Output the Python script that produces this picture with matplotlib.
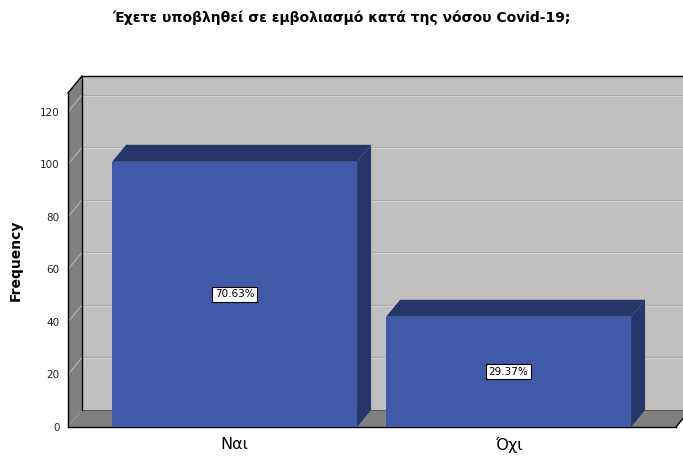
import matplotlib
matplotlib.use("Agg")
import matplotlib.pyplot as plt
from matplotlib.patches import Polygon
import numpy as np

categories = ["Ναι", "Όχι"]
counts = [101, 42]
percents = ["70.63%", "29.37%"]
yticks = [0, 20, 40, 60, 80, 100, 120]
title = "Έχετε υποβληθεί σε εμβολιασμό κατά της νόσου Covid-19;"

front = "#4059a9"
dark = "#26366b"
wall = "#c0c0c0"
side = "#808080"

W, H = 683, 457
fig = plt.figure(figsize=(W / 100, H / 100), dpi=100)
ax = fig.add_axes([68 / W, (H - 427) / H, 608 / W, 334 / H])
xl, xr = -0.608, 1.611
ytop = 127.2
ax.set_xlim(xl, xr)
ax.set_ylim(0, ytop)
for s in ax.spines.values():
    s.set_visible(False)

# depth offset (14 px right, 17 px up) in data units
p0 = ax.transData.transform((0, 0))
ddx, ddy = ax.transData.inverted().transform(p0 + np.array([14, 17]))

def poly(pts, fc, z, ec="none", lw=0):
    ax.add_patch(Polygon(pts, closed=True, fc=fc, ec=ec, lw=lw, zorder=z, clip_on=False))

# back wall, side wall, floor
poly([(xl + ddx, ddy), (xr + ddx + 0.2, ddy), (xr + ddx + 0.2, ytop + ddy), (xl + ddx, ytop + ddy)], wall, 0)
poly([(xl, 0), (xl + ddx, ddy), (xl + ddx, ytop + ddy), (xl, ytop)], side, 1)
poly([(xl, 0), (xr, 0), (xr + ddx, ddy), (xl + ddx, ddy)], side, 1)

one_px = ytop / 334
for v in yticks[1:]:
    ax.plot([xl + ddx, xr + ddx + 0.2], [v + ddy, v + ddy], color="#ababab", lw=0.8, zorder=0.5, clip_on=False)
    ax.plot([xl + ddx, xr + ddx + 0.2], [v + ddy - one_px, v + ddy - one_px], color="#d2d2d2", lw=0.7, zorder=0.5, clip_on=False)
    ax.plot([xl, xl + ddx], [v, v + ddy], color="#b4b4b4", lw=0.8, zorder=1.5, clip_on=False)

k = dict(color="black", lw=1.0, zorder=2, clip_on=False)
ax.plot([xl, xl], [0, ytop], **k)
ax.plot([xl + ddx, xl + ddx], [ddy, ytop + ddy], **k)
ax.plot([xl, xl + ddx], [ytop, ytop + ddy], **k)
ax.plot([xl + ddx, xr + ddx + 0.2], [ytop + ddy, ytop + ddy], **k)
ax.plot([xl, xr], [0, 0], **k)
ax.plot([xr, xr + ddx], [0, ddy], **k)
ax.plot([xl + ddx, xr + ddx], [ddy, ddy], color="#555555", lw=0.6, zorder=1.2, clip_on=False)

# bars
width = 0.894
x = np.arange(len(categories))
bars = ax.bar(x, counts, width=width, color=front, zorder=5)
for b, v, p in zip(bars, counts, percents):
    x0, x1 = b.get_x(), b.get_x() + b.get_width()
    poly([(x0, v), (x0 + ddx, v + ddy), (x1 + ddx, v + ddy), (x1, v)], dark, 4)
    poly([(x1, 0), (x1, v), (x1 + ddx, v + ddy), (x1 + ddx, ddy)], dark, 4)
    ax.text((x0 + x1) / 2, v / 2, p, ha="center", va="center", fontsize=7.5, zorder=6,
            bbox=dict(boxstyle="square,pad=0.25", fc="white", ec="black", lw=0.8))

ax.set_xticks(x)
ax.set_xticklabels(categories, fontsize=11.5)
ax.set_yticks(yticks)
ax.set_yticklabels([str(t) for t in yticks], fontsize=7.5, color="#222222")
ax.tick_params(length=0, pad=6)
ax.tick_params(axis="x", pad=7)
ax.set_ylabel("Frequency", fontsize=10, fontweight="bold", labelpad=12)

fig.text(0.5, 1 - 18 / H, title, ha="center", va="center", fontsize=10, fontweight="bold")

fig.savefig("out.png", dpi=100)
